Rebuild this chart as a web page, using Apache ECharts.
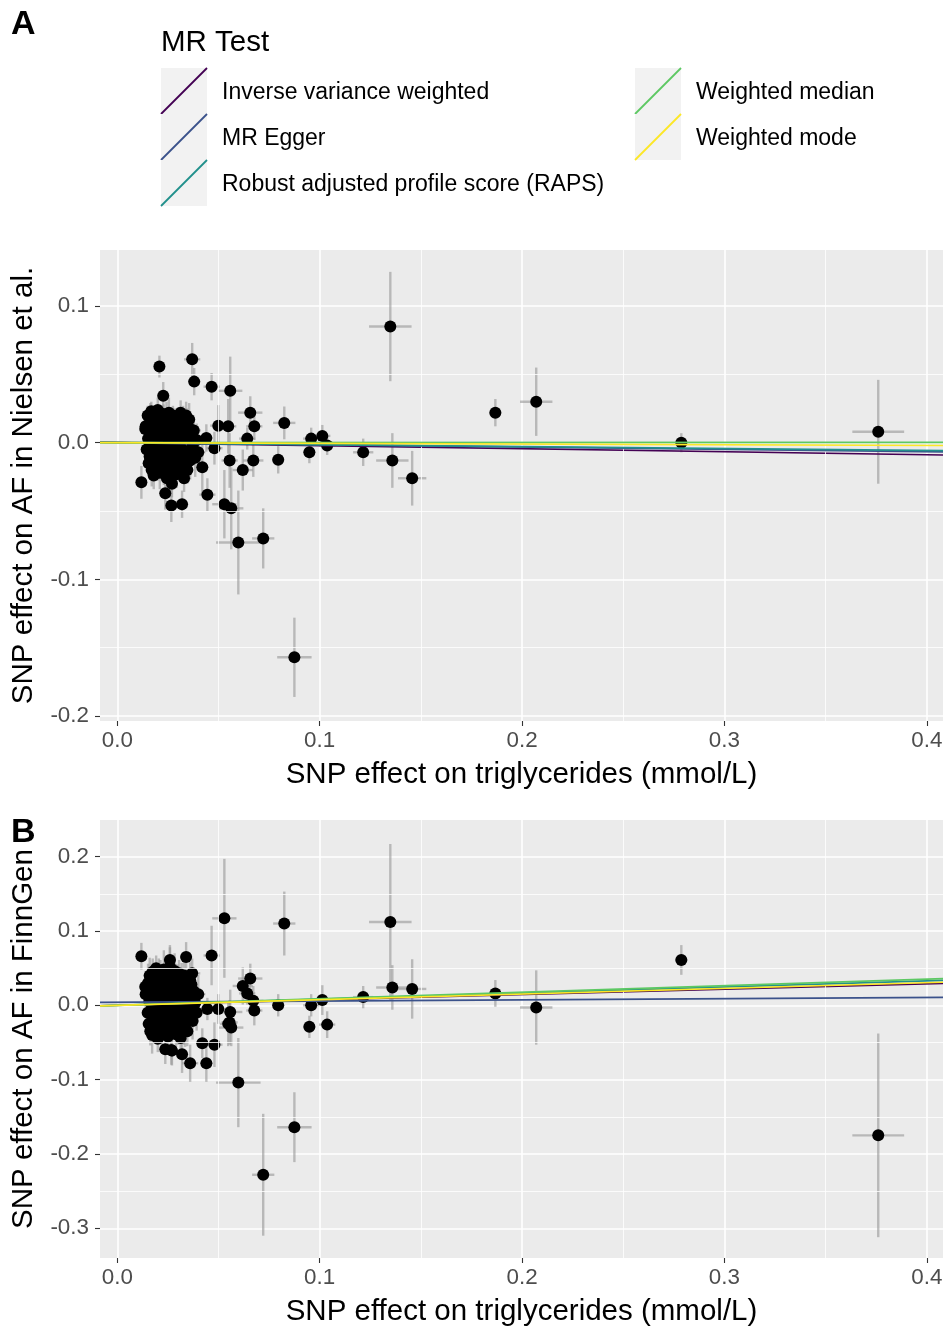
<!DOCTYPE html>
<html>
<head>
<meta charset="utf-8">
<script src="https://cdn.jsdelivr.net/npm/echarts@6/dist/echarts.min.js"></script>
<style>
html,body{margin:0;padding:0;background:#ffffff;}
#chart{width:946px;height:1328px;}
</style>
</head>
<body>
<div id="chart"></div>
<script>
// ---------- DATA ----------
// SNP effects on triglycerides (x) and error-bar half widths; outlying SNPs then the dense cluster
const tgBetaOuter = [0.1349,0.1359,0.1457,0.1215,0.1868,0.2070,0.2787,0.3760,0.0875,0.0825,
  0.0721,0.0958,0.0949,0.1013,0.1037,0.0795,0.0598,0.0529,0.0466,0.0558,
  0.0657,0.0677,0.0642,0.0620,0.0548,0.0555,0.0672,0.0499,0.0440,0.0480,
  0.0420,0.0445,0.0563,0.0370,0.0380,0.0208,0.0227,0.0119,0.0237,0.0267,
  0.0320,0.0270,0.0330,0.0346,0.0360,0.0340,0.0260,0.0366,0.0138];
const tgErrOuter = [0.0105,0.0080,0.0070,0.0050,0.0030,0.0080,0.0030,0.0128,0.0085,0.0055,
  0.0055,0.0040,0.0030,0.0040,0.0040,0.0030,0.0110,0.0060,0.0040,0.0060,
  0.0060,0.0040,0.0040,0.0050,0.0040,0.0040,0.0050,0.0040,0.0030,0.0040,
  0.0030,0.0040,0.0060,0.0040,0.0030,0.0020,0.0030,0.0020,0.0030,0.0030,
  0.0030,0.0030,0.0030,0.0030,0.0040,0.0030,0.0030,0.0030,0.0020];
const nielsenBetaOuter = [0.085,-0.013,-0.026,-0.007,0.022,0.030,0.000,0.008,-0.157,0.0145,
  -0.070,0.003,-0.007,0.005,-0.002,-0.0125,-0.073,-0.045,0.041,0.038,
  0.022,0.012,0.003,-0.020,0.012,-0.013,-0.013,0.0125,0.0035,-0.004,
  -0.018,-0.038,-0.048,0.061,0.0447,0.0557,0.0344,-0.029,-0.037,-0.046,
  -0.045,-0.030,-0.026,-0.020,0.010,0.020,0.015,0.005,0.010];
const nielsenErrOuter = [0.040,0.020,0.020,0.010,0.010,0.025,0.007,0.038,0.029,0.012,
  0.022,0.008,0.008,0.008,0.007,0.010,0.038,0.025,0.010,0.025,
  0.012,0.010,0.008,0.015,0.020,0.020,0.012,0.015,0.010,0.012,
  0.020,0.012,0.030,0.012,0.010,0.008,0.010,0.012,0.012,0.012,
  0.010,0.010,0.010,0.010,0.010,0.010,0.010,0.010,0.008];
const finngenBetaOuter = [0.112,0.024,0.022,0.011,0.016,-0.003,0.061,-0.175,-0.164,0.110,
  -0.228,0.000,-0.029,0.007,-0.026,0.000,-0.104,0.117,0.067,-0.009,
  0.036,-0.007,0.016,0.026,-0.025,-0.023,0.006,-0.005,-0.078,-0.053,
  -0.051,-0.005,-0.030,0.043,0.012,0.020,0.035,0.066,-0.059,-0.060,
  -0.066,-0.061,-0.033,-0.035,-0.078,0.065,0.061,0.028,0.025];
const finngenErrOuter = [0.105,0.030,0.040,0.015,0.018,0.050,0.020,0.137,0.047,0.043,
  0.082,0.015,0.015,0.020,0.018,0.015,0.060,0.080,0.040,0.030,
  0.020,0.020,0.015,0.025,0.030,0.030,0.020,0.020,0.025,0.030,
  0.020,0.015,0.025,0.020,0.015,0.015,0.020,0.018,0.020,0.020,
  0.025,0.020,0.020,0.020,0.025,0.020,0.020,0.020,0.015];

const tgBetaCluster = [0.0140,0.0145,0.0150,0.0152,0.0155,0.0158,0.0160,0.0163,0.0165,0.0168,
  0.0170,0.0172,0.0175,0.0178,0.0180,0.0183,0.0185,0.0188,0.0190,0.0192,
  0.0195,0.0198,0.0200,0.0203,0.0205,0.0208,0.0210,0.0213,0.0215,0.0218,
  0.0220,0.0223,0.0225,0.0228,0.0230,0.0233,0.0235,0.0238,0.0240,0.0243,
  0.0245,0.0248,0.0250,0.0253,0.0255,0.0258,0.0260,0.0263,0.0265,0.0268,
  0.0270,0.0273,0.0275,0.0278,0.0280,0.0283,0.0285,0.0288,0.0290,0.0293,
  0.0295,0.0298,0.0300,0.0303,0.0305,0.0308,0.0310,0.0313,0.0315,0.0318,
  0.0320,0.0325,0.0330,0.0335,0.0340,0.0345,0.0350,0.0355,0.0360,0.0365,
  0.0372,0.0378,0.0385,0.0392,0.0400];
const tgErrCluster = [0.0020,0.0025,0.0020,0.0030,0.0020,0.0025,0.0030,0.0020,0.0025,0.0020,
  0.0030,0.0020,0.0025,0.0020,0.0030,0.0025,0.0020,0.0030,0.0020,0.0025,
  0.0020,0.0030,0.0025,0.0020,0.0030,0.0020,0.0025,0.0030,0.0020,0.0025,
  0.0030,0.0020,0.0025,0.0020,0.0030,0.0025,0.0020,0.0030,0.0020,0.0025,
  0.0020,0.0030,0.0025,0.0020,0.0030,0.0020,0.0025,0.0030,0.0020,0.0025,
  0.0030,0.0020,0.0025,0.0020,0.0030,0.0025,0.0020,0.0030,0.0020,0.0025,
  0.0020,0.0030,0.0025,0.0020,0.0030,0.0020,0.0025,0.0030,0.0020,0.0025,
  0.0030,0.0020,0.0035,0.0020,0.0030,0.0025,0.0035,0.0030,0.0020,0.0025,
  0.0030,0.0035,0.0025,0.0030,0.0035];
const nielsenBetaCluster = [0.012,-0.005,0.020,0.003,-0.015,0.008,-0.010,0.016,-0.002,0.023,
  -0.020,0.005,-0.008,0.014,-0.024,0.001,0.019,-0.012,0.007,-0.004,
  0.011,-0.017,0.024,0.002,-0.009,0.015,-0.022,0.006,-0.001,0.018,
  -0.014,0.009,-0.006,0.021,-0.019,0.004,-0.011,0.013,-0.003,0.017,
  -0.026,0.000,0.010,-0.016,0.022,-0.007,0.005,-0.013,0.016,-0.021,
  0.008,-0.002,0.020,-0.010,0.012,-0.018,0.003,-0.005,0.014,-0.023,
  0.007,-0.008,0.018,-0.015,0.001,0.011,-0.012,0.022,-0.004,0.006,
  -0.020,0.015,-0.009,0.003,-0.016,0.012,-0.006,0.017,-0.013,0.004,
  -0.002,0.009,-0.011,0.002,-0.007];
const nielsenErrCluster = [0.008,0.010,0.007,0.012,0.009,0.011,0.008,0.013,0.010,0.007,
  0.012,0.009,0.011,0.008,0.010,0.013,0.007,0.009,0.012,0.010,
  0.008,0.011,0.009,0.013,0.007,0.010,0.012,0.008,0.011,0.009,
  0.010,0.013,0.008,0.007,0.012,0.009,0.011,0.010,0.008,0.013,
  0.009,0.012,0.007,0.010,0.011,0.008,0.013,0.009,0.010,0.012,
  0.008,0.011,0.007,0.010,0.013,0.009,0.012,0.008,0.011,0.010,
  0.009,0.013,0.008,0.012,0.010,0.007,0.011,0.009,0.013,0.008,
  0.010,0.012,0.014,0.009,0.011,0.013,0.010,0.012,0.014,0.011,
  0.013,0.010,0.014,0.012,0.011];
const finngenBetaCluster = [0.015,0.022,-0.010,0.030,-0.025,0.005,0.040,-0.035,0.012,0.028,
  -0.005,-0.040,0.045,0.000,0.018,-0.018,0.035,-0.030,0.008,0.050,
  -0.012,0.025,-0.045,0.003,0.038,-0.022,0.010,0.042,-0.008,0.020,
  -0.038,0.032,-0.002,0.015,0.048,-0.028,0.006,-0.015,0.027,0.044,
  -0.020,0.013,-0.042,0.033,0.001,-0.011,0.052,0.019,-0.033,0.004,
  0.039,-0.024,0.024,-0.007,0.011,0.046,-0.016,0.030,-0.039,0.017,
  0.002,0.036,-0.026,0.009,0.043,-0.009,0.022,-0.044,0.014,0.031,
  -0.019,0.005,0.040,-0.031,0.018,-0.004,0.026,-0.013,0.034,0.008,
  -0.021,0.019,0.003,-0.010,0.015];
const finngenErrCluster = [0.018,0.022,0.015,0.026,0.020,0.017,0.024,0.019,0.028,0.016,
  0.021,0.025,0.018,0.023,0.016,0.027,0.020,0.019,0.024,0.017,
  0.022,0.026,0.018,0.021,0.025,0.016,0.023,0.019,0.027,0.020,
  0.018,0.024,0.021,0.017,0.026,0.020,0.023,0.018,0.025,0.022,
  0.019,0.027,0.016,0.024,0.021,0.018,0.026,0.020,0.023,0.017,
  0.025,0.019,0.022,0.028,0.018,0.024,0.020,0.026,0.017,0.023,
  0.021,0.019,0.027,0.022,0.018,0.025,0.020,0.024,0.016,0.026,
  0.022,0.028,0.020,0.025,0.023,0.027,0.021,0.026,0.024,0.022,
  0.025,0.023,0.027,0.024,0.026];

// MR estimates (lines): method names, colours, slopes and intercepts per outcome
const mrMethods = ['Inverse variance weighted','MR Egger','Robust adjusted profile score (RAPS)','Weighted median','Weighted mode'];
const mrColors = ['#440154','#3B528B','#21908C','#5DC863','#FDE725'];
const nielsenSlope = [-0.022,-0.017,-0.014,0.0005,-0.005];
const nielsenIntercept = [0,0.0003,0,0,0];
const finngenSlope = [0.072,0.016,0.082,0.088,0.076];
const finngenIntercept = [0,0.004,0,0,0];

// Tick values
const xTicks = [0,0.1,0.2,0.3,0.4];
const xMinor = [0.05,0.15,0.25,0.35];
const yTicksA = [-0.2,-0.1,0,0.1];
const yMinorA = [-0.15,-0.05,0.05];
const yTicksB = [-0.3,-0.2,-0.1,0,0.1,0.2];
const yMinorB = [-0.25,-0.15,-0.05,0.05,0.15];

// ---------- BUILD ----------
const tgBeta = tgBetaOuter.concat(tgBetaCluster);
const tgErr = tgErrOuter.concat(tgErrCluster);
const nielsenBeta = nielsenBetaOuter.concat(nielsenBetaCluster);
const nielsenErr = nielsenErrOuter.concat(nielsenErrCluster);
const finngenBeta = finngenBetaOuter.concat(finngenBetaCluster);
const finngenErr = finngenErrOuter.concat(finngenErrCluster);

const FONT = "'Liberation Sans', Arial, Helvetica, sans-serif";
const X_MIN = -0.00855, X_MAX = 0.408;
const panels = [
  {ys: nielsenBeta, ye: nielsenErr, slope: nielsenSlope, icpt: nielsenIntercept,
   yMin: -0.2036, yMax: 0.141, yTicks: yTicksA, yMinor: yMinorA, name: 'SNP effect on AF in Nielsen et al.'},
  {ys: finngenBeta, ye: finngenErr, slope: finngenSlope, icpt: finngenIntercept,
   yMin: -0.3400, yMax: 0.2493, yTicks: yTicksB, yMinor: yMinorB, name: 'SNP effect on AF in FinnGen'}
];

const fmt = v => (Math.abs(v) < 1e-9 ? 0 : v).toFixed(1);

const grids = [
  {left: 100, top: 250, width: 843, height: 471},
  {left: 100, top: 820, width: 843, height: 438}
].map(g => Object.assign(g, {show: true, backgroundColor: '#EBEBEB', borderWidth: 0, containLabel: false}));

const xAxes = [], yAxes = [], series = [];
panels.forEach((p, i) => {
  xAxes.push({
    type: 'value', gridIndex: i, position: 'bottom', min: X_MIN, max: X_MAX, minInterval: 0.1, maxInterval: 0.1,
    axisLine: {show: false, onZero: false},
    axisTick: {show: true, length: 5, lineStyle: {color: '#333333', width: 1.1}, customValues: xTicks},
    axisLabel: {color: '#4D4D4D', fontSize: 22.4, fontFamily: FONT, margin: 9, customValues: xTicks, formatter: fmt},
    splitLine: {show: true, lineStyle: {color: '#FFFFFF', width: 1.6}},
    name: 'SNP effect on triglycerides (mmol/L)', nameLocation: 'middle', nameGap: 39,
    nameTextStyle: {color: '#000000', fontSize: 29.5, fontFamily: FONT}
  });
  yAxes.push({
    type: 'value', gridIndex: i, position: 'left', min: p.yMin, max: p.yMax, minInterval: 0.1, maxInterval: 0.1,
    axisLine: {show: false, onZero: false},
    axisTick: {show: true, length: 5, lineStyle: {color: '#333333', width: 1.1}, customValues: p.yTicks},
    axisLabel: {color: '#4D4D4D', fontSize: 22.4, fontFamily: FONT, margin: 11, padding: [4, 0, 0, 0], customValues: p.yTicks, formatter: fmt},
    splitLine: {show: true, lineStyle: {color: '#FFFFFF', width: 1.6}},
    name: p.name, nameLocation: 'middle', nameGap: 61, nameRotate: 90,
    nameTextStyle: {color: '#000000', fontSize: 29.5, fontFamily: FONT}
  });
  // minor grid lines
  series.push({
    type: 'line', xAxisIndex: i, yAxisIndex: i, data: [], z: 1, silent: true,
    markLine: {
      silent: true, symbol: 'none', animation: false, label: {show: false},
      lineStyle: {color: '#FFFFFF', width: 0.8, type: 'solid'},
      emphasis: {disabled: true},
      data: xMinor.map(v => ({xAxis: v})).concat(p.yMinor.map(v => ({yAxis: v})))
    }
  });
  // error bars
  series.push({
    type: 'custom', xAxisIndex: i, yAxisIndex: i, z: 2, silent: true, clip: true,
    encode: {x: 0, y: 1},
    data: tgBeta.map((x, k) => [x, p.ys[k], tgErr[k], p.ye[k]]),
    renderItem: (params, api) => {
      const x = api.value(0), y = api.value(1), dx = api.value(2), dy = api.value(3);
      const h1 = api.coord([x - dx, y]), h2 = api.coord([x + dx, y]);
      const v1 = api.coord([x, y - dy]), v2 = api.coord([x, y + dy]);
      const st = {stroke: 'rgba(150,150,150,0.6)', lineWidth: 2.4};
      return {type: 'group', children: [
        {type: 'line', shape: {x1: h1[0], y1: h1[1], x2: h2[0], y2: h2[1]}, style: st},
        {type: 'line', shape: {x1: v1[0], y1: v1[1], x2: v2[0], y2: v2[1]}, style: st}
      ]};
    }
  });
  // points
  series.push({
    type: 'scatter', xAxisIndex: i, yAxisIndex: i, z: 3, silent: true,
    symbol: 'circle', symbolSize: 12, itemStyle: {color: '#000000', opacity: 1},
    data: tgBeta.map((x, k) => [x, p.ys[k]])
  });
  // MR lines
  mrMethods.forEach((m, j) => {
    series.push({
      type: 'line', name: m, xAxisIndex: i, yAxisIndex: i, z: 4 + j, silent: true,
      showSymbol: false, symbol: 'none', clip: true,
      lineStyle: {color: mrColors[j], width: 1.7},
      data: [[X_MIN, p.icpt[j] + p.slope[j] * X_MIN], [X_MAX, p.icpt[j] + p.slope[j] * X_MAX]]
    });
  });
});

// legend drawn as graphics (ggplot abline key: diagonal on grey key box)
const legendEls = [];
legendEls.push({type: 'text', x: 161, y: 43, style: {text: 'MR Test', fill: '#000', font: '29.5px ' + FONT,
  textAlign: 'left', textVerticalAlign: 'middle', align: 'left', verticalAlign: 'middle'}});
const keyPos = [[161, 68], [161, 114], [161, 160], [635, 68], [635, 114]];
mrMethods.forEach((m, j) => {
  const [kx, ky] = keyPos[j];
  legendEls.push({type: 'rect', shape: {x: kx, y: ky, width: 46, height: 46}, style: {fill: '#F2F2F2'}});
  legendEls.push({type: 'line', shape: {x1: kx, y1: ky + 46, x2: kx + 46, y2: ky}, style: {stroke: mrColors[j], lineWidth: 1.8}});
  legendEls.push({type: 'text', x: kx + 61, y: ky + 25, style: {text: m, fill: '#000', font: '23px ' + FONT,
    textAlign: 'left', textVerticalAlign: 'middle', align: 'left', verticalAlign: 'middle'}});
});
legendEls.push({type: 'text', x: 11, y: 25, style: {text: 'A', fill: '#000', font: 'bold 34px ' + FONT,
  textAlign: 'left', textVerticalAlign: 'middle', align: 'left', verticalAlign: 'middle'}});
legendEls.push({type: 'text', x: 11, y: 833, style: {text: 'B', fill: '#000', font: 'bold 34px ' + FONT,
  textAlign: 'left', textVerticalAlign: 'middle', align: 'left', verticalAlign: 'middle'}});

const chart = echarts.init(document.getElementById('chart'), null, {renderer: 'canvas', width: 946, height: 1328});
chart.setOption({
  animation: false,
  backgroundColor: '#FFFFFF',
  textStyle: {fontFamily: FONT},
  grid: grids,
  xAxis: xAxes,
  yAxis: yAxes,
  series: series,
  graphic: {elements: legendEls}
});
</script>
</body>
</html>
